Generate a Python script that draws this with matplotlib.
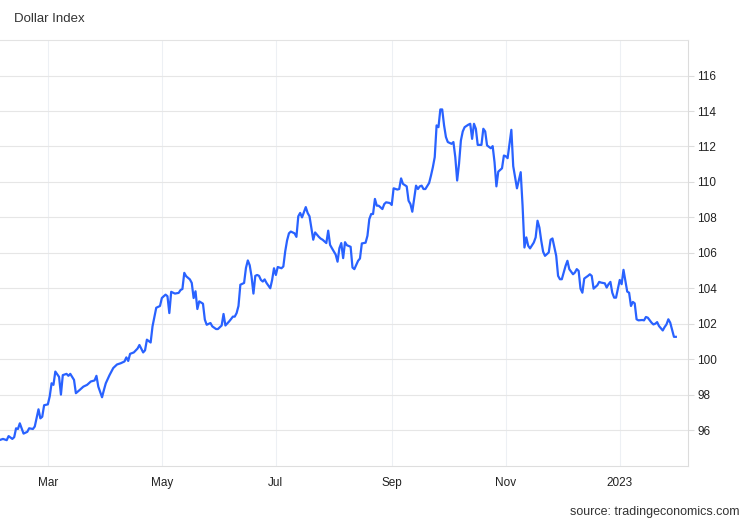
import matplotlib
matplotlib.use("Agg")
import matplotlib.pyplot as plt
import pandas as pd

plt.rcParams['font.family'] = ['Liberation Sans', 'DejaVu Sans']

# days counted from 2022-02-01
start = pd.Timestamp("2022-02-01")
days = [2, 4, 6, 7, 9, 10, 11, 12, 13, 15, 17, 18, 20, 21, 23, 24, 25, 26, 28, 29,
        30, 31, 32, 34, 35, 36, 38, 39, 40, 42, 43, 45, 47, 49, 51, 53, 54, 55, 57, 58,
        59, 61, 63, 65, 67, 69, 70, 71, 72, 74, 76, 77, 79, 80, 81, 83, 84, 86, 88, 89,
        90, 91, 92, 93, 94, 96, 98, 99, 100, 101, 102, 104, 105, 106, 107, 108, 109, 111, 112, 113,
        115, 116, 118, 119, 120, 121, 122, 123, 125, 126, 127, 128, 129, 130, 131, 133, 134, 135, 136, 137,
        138, 139, 140, 141, 142, 143, 144, 145, 147, 148, 149, 150, 151, 153, 154, 155, 156, 157, 158, 160,
        161, 162, 163, 164, 166, 167, 168, 169, 170, 171, 173, 174, 175, 177, 178, 179, 180, 182, 183, 184,
        185, 186, 187, 188, 190, 191, 192, 194, 195, 196, 198, 199, 200, 201, 202, 203, 204, 205, 207, 208,
        209, 211, 212, 213, 215, 216, 217, 218, 220, 221, 222, 223, 225, 226, 227, 228, 229, 230, 232, 233,
        234, 235, 236, 237, 238, 239, 240, 241, 242, 244, 245, 246, 247, 248, 249, 250, 251, 253, 254, 255,
        256, 257, 258, 260, 261, 262, 263, 265, 266, 267, 268, 269, 271, 272, 273, 274, 276, 277, 278, 279,
        281, 282, 283, 284, 285, 286, 288, 289, 290, 291, 292, 293, 294, 296, 297, 298, 300, 301, 302, 303,
        305, 306, 307, 309, 310, 311, 312, 313, 314, 315, 317, 318, 319, 320, 322, 323, 324, 326, 327, 328,
        329, 330, 331, 332, 334, 335, 336, 337, 338, 339, 340, 341, 342, 343, 344, 346, 347, 348, 349, 351,
        352, 353, 354, 355, 357, 358, 359, 360, 361, 363, 364]
dxy = [95.43, 95.5, 95.43, 95.66, 95.5, 95.6, 96.1, 96.06, 96.38, 95.8, 95.9, 96.1, 96.06, 96.2, 97.17, 96.66, 96.75, 97.4, 97.45, 97.9,
       98.64, 98.55, 99.3, 99.0, 98.0, 99.1, 99.17, 99.06, 99.17, 98.83, 98.08, 98.26, 98.45, 98.55, 98.74, 98.8, 99.06, 98.45, 97.85, 98.26,
       98.64, 99.1, 99.5, 99.7, 99.77, 99.87, 100.1, 99.9, 100.3, 100.38, 100.6, 100.8, 100.38, 100.5, 101.1, 100.94, 101.85, 102.9, 103.0, 103.45,
       103.55, 103.64, 103.55, 102.6, 103.8, 103.7, 103.74, 103.9, 103.96, 104.87, 104.68, 104.5, 104.3, 103.45, 103.83, 102.83, 103.26, 103.13, 102.23, 101.94,
       102.04, 101.85, 101.7, 101.7, 101.8, 101.9, 102.55, 101.9, 102.13, 102.26, 102.4, 102.4, 102.6, 103.0, 104.2, 104.3, 105.15, 105.57, 105.3, 104.66,
       103.7, 104.7, 104.75, 104.7, 104.47, 104.38, 104.5, 104.3, 104.0, 104.47, 105.13, 104.75, 105.2, 105.13, 105.23, 106.08, 106.7, 107.1, 107.2, 107.1,
       106.9, 108.06, 108.25, 108.0, 108.58, 108.25, 108.06, 107.4, 106.74, 107.15, 106.9, 106.8, 106.74, 106.55, 107.25, 106.45, 106.26, 105.9, 105.5, 106.26,
       106.55, 105.7, 106.6, 106.43, 106.34, 105.17, 105.08, 105.55, 105.68, 106.53, 106.57, 106.96, 107.9, 108.19, 108.19, 109.04, 108.66, 108.66, 108.47, 108.75,
       108.85, 108.81, 108.7, 109.64, 109.57, 109.6, 110.2, 109.89, 109.75, 108.94, 108.75, 108.32, 109.79, 109.6, 109.75, 109.79, 109.6, 109.6, 109.94, 110.36,
       110.83, 111.4, 113.19, 113.09, 114.09, 114.09, 113.19, 112.53, 112.25, 112.15, 112.25, 111.4, 110.08, 111.02, 112.34, 112.85, 113.09, 113.23, 113.28, 112.43,
       113.28, 113.0, 112.09, 112.09, 113.0, 112.85, 112.06, 111.9, 112.02, 111.11, 109.75, 110.58, 110.77, 111.49, 111.45, 111.34, 112.94, 110.89, 110.26, 109.64,
       110.55, 108.66, 106.3, 106.87, 106.4, 106.25, 106.58, 106.87, 107.81, 107.43, 106.68, 106.06, 105.83, 106.02, 106.74, 106.81, 105.83, 104.7, 104.51, 104.51,
       105.26, 105.55, 105.08, 104.79, 104.89, 105.08, 104.98, 103.98, 103.75, 104.55, 104.7, 104.79, 104.7, 103.98, 104.17, 104.36, 104.32, 104.28, 104.04, 104.23,
       104.36, 103.75, 103.47, 103.47, 104.47, 104.23, 105.04, 104.42, 103.81, 103.75, 103.0, 103.23, 103.15, 102.25, 102.19, 102.21, 102.19, 102.38, 102.34, 102.06,
       101.96, 102.0, 102.09, 101.87, 101.62, 101.81, 101.96, 102.25, 102.06, 101.26, 101.26]

tick_dates = ["2022-03-01", "2022-05-01", "2022-07-01", "2022-09-01", "2022-11-01", "2023-01-01"]
tick_labels = ["Mar", "May", "Jul", "Sep", "Nov", "2023"]
y_ticks = list(range(96, 117, 2))

dates = start + pd.to_timedelta(days, unit="D")

fig = plt.figure(figsize=(7.5, 5.2), dpi=100)
ax = fig.add_axes([0, 0.1048, 0.9173, 0.818])
ax.set_axisbelow(True)
ax.plot(dates, dxy, color="#2962ff", lw=1.6, solid_joinstyle="round")

ax.set_ylim(94, 118)
ax.set_xlim(start + pd.Timedelta(days=2.4), start + pd.Timedelta(days=370.5))
ax.yaxis.tick_right()
ax.set_yticks(y_ticks)
ax.set_xticks(pd.to_datetime(tick_dates))
ax.set_xticklabels(tick_labels)
ax.tick_params(axis="y", length=4, width=0.8, color="#dcdcdc", pad=2.5,
               labelsize=8.5, labelcolor="#222222")
ax.tick_params(axis="x", length=0, pad=8, labelsize=8.5, labelcolor="#222222")
ax.grid(axis="y", color="#e6e6e6", lw=0.8)
ax.grid(axis="x", color="#edf0f4", lw=0.8)

ax.spines["left"].set_visible(False)
ax.spines["top"].set_color("#e3e3e3")
ax.spines["right"].set_color("#dcdcdc")
ax.spines["bottom"].set_color("#dedede")
for s in ax.spines.values():
    s.set_linewidth(0.8)

fig.text(14 / 750, 1 - 19 / 520, "Dollar Index", va="center", fontsize=9.5, color="#333333")
fig.text(740 / 750, 1 - 512 / 520, "source: tradingeconomics.com", ha="right", va="center",
         fontsize=9, color="#333333")

fig.savefig("out.png", dpi=100)
